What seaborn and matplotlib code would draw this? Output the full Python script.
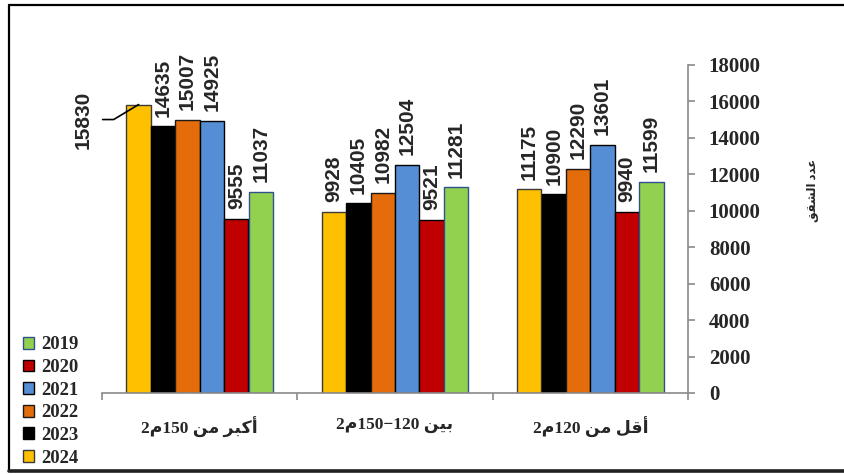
import re
import numpy as np
import pandas as pd
import matplotlib
matplotlib.use("Agg")
import matplotlib.pyplot as plt
from matplotlib.lines import Line2D
from matplotlib.patches import Patch
import seaborn as sns

# ---- data -------------------------------------------------------------
categories = ["أكبر من 150م2", "بين 120−150م2", "أقل من 120م2"]
years = ["2024", "2023", "2022", "2021", "2020", "2019"]
v2024 = [15830, 9928, 11175]
v2023 = [14635, 10405, 10900]
v2022 = [15007, 10982, 12290]
v2021 = [14925, 12504, 13601]
v2020 = [9555, 9521, 9940]
v2019 = [11037, 11281, 11599]
y_ticks = [0, 2000, 4000, 6000, 8000, 10000, 12000, 14000, 16000, 18000]
y_title = "عدد الشقق"

series = {"2024": v2024, "2023": v2023, "2022": v2022,
          "2021": v2021, "2020": v2020, "2019": v2019}
colors = {"2024": "#FFC000", "2023": "#000000", "2022": "#E46C0A",
          "2021": "#558ED5", "2020": "#C00000", "2019": "#92D050"}
edges = {"2024": "#3A3A3A", "2023": "#000000", "2022": "#1A1A1A",
         "2021": "#000000", "2020": "#000000", "2019": "#2F528F"}

# ---- minimal Arabic shaping / visual ordering -------------------------
AR_FORMS = {
    "\u0627": ("\uFE8D", "\uFE8E", None, None),
    "\u0623": ("\uFE83", "\uFE84", None, None),
    "\u0628": ("\uFE8F", "\uFE90", "\uFE91", "\uFE92"),
    "\u062F": ("\uFEA9", "\uFEAA", None, None),
    "\u0631": ("\uFEAD", "\uFEAE", None, None),
    "\u0634": ("\uFEB5", "\uFEB6", "\uFEB7", "\uFEB8"),
    "\u0639": ("\uFEC9", "\uFECA", "\uFECB", "\uFECC"),
    "\u0642": ("\uFED5", "\uFED6", "\uFED7", "\uFED8"),
    "\u0643": ("\uFED9", "\uFEDA", "\uFEDB", "\uFEDC"),
    "\u0644": ("\uFEDD", "\uFEDE", "\uFEDF", "\uFEE0"),
    "\u0645": ("\uFEE1", "\uFEE2", "\uFEE3", "\uFEE4"),
    "\u0646": ("\uFEE5", "\uFEE6", "\uFEE7", "\uFEE8"),
    "\u064A": ("\uFEF1", "\uFEF2", "\uFEF3", "\uFEF4"),
}


def shape(s):
    out = []
    for i, c in enumerate(s):
        f = AR_FORMS.get(c)
        if f is None:
            out.append(c)
            continue
        prev = s[i - 1] if i > 0 else ""
        nxt = s[i + 1] if i + 1 < len(s) else ""
        jp = prev in AR_FORMS and AR_FORMS[prev][2] is not None
        jn = f[2] is not None and nxt in AR_FORMS
        if jp and jn:
            out.append(f[3])
        elif jp:
            out.append(f[1])
        elif jn:
            out.append(f[2])
        else:
            out.append(f[0])
    return "".join(out)


def visual(s):
    tokens = re.findall(r"\d+|.", shape(s))
    return "".join(reversed(tokens))


# ---- style ------------------------------------------------------------
sns.set_style("white")
plt.rcParams["font.family"] = ["Liberation Serif", "DejaVu Sans"]
plt.rcParams["font.weight"] = "bold"

df = pd.DataFrame(
    [(cat, yr, series[yr][i]) for yr in years for i, cat in enumerate(categories)],
    columns=["category", "year", "count"],
)

fig = plt.figure(figsize=(8.44, 4.75), dpi=100)
ax = fig.add_axes([102 / 844, 82 / 475, 586 / 844, 328 / 475])

sns.barplot(data=df, x="category", y="count", hue="year", order=categories,
            hue_order=years, palette=colors, width=0.75, gap=0, dodge=True,
            saturation=1, legend=False, ax=ax, errorbar=None)

for cont, yr in zip(ax.containers, years):
    for rect in cont:
        rect.set_edgecolor(edges[yr])
        rect.set_linewidth(1.0)
    labels = [f"{v:.0f}" for v in series[yr]]
    if yr == "2024":
        labels[0] = ""
    ax.bar_label(cont, labels=labels, rotation=90, padding=7,
                 fontsize=15, fontweight="bold", family="Liberation Sans")

# callout for the tallest bar
rect = ax.containers[0][0]
bc = rect.get_x() + rect.get_width() / 2
top = rect.get_height()
ax.annotate(f"{series['2024'][0]:.0f}", xy=(bc, top), xytext=(-55, -15),
            textcoords="offset pixels", rotation=90, ha="center", va="center",
            fontsize=15, fontweight="bold", family="Liberation Sans")
ax.annotate("", xy=(bc, top), xytext=(-36, -15), textcoords="offset pixels",
            arrowprops=dict(arrowstyle="-", color="black", lw=1.2,
                            connectionstyle="angle,angleA=0,angleB=31,rad=0",
                            shrinkA=0, shrinkB=0))

# axes
axis_grey = "#8A8A8A"
ax.set_xlim(-0.5, 2.5)
ax.set_ylim(0, 18000)
ax.yaxis.tick_right()
ax.set_yticks(y_ticks)
ax.set_yticklabels([str(t) for t in y_ticks])
ax.tick_params(axis="y", which="major", direction="out", length=5, width=1.2,
               color=axis_grey, pad=10, labelsize=15, right=True, left=False)
for lab in ax.get_yticklabels():
    lab.set_fontweight("bold")
    lab.set_ha("left")

ax.set_xticks([0, 1, 2])
ax.set_xticklabels([visual(c) for c in categories], fontsize=12.5,
                   fontweight="bold")
ax.set_xticks([-0.5, 0.5, 1.5, 2.5], minor=True)
ax.tick_params(axis="x", which="major", length=0, pad=17)
ax.tick_params(axis="x", which="minor", direction="out", length=5, width=1.2,
               color=axis_grey, bottom=True)
ax.set_xlabel("")
ax.set_ylabel("")
for side in ("top", "left"):
    ax.spines[side].set_visible(False)
for side in ("right", "bottom"):
    ax.spines[side].set_visible(True)
    ax.spines[side].set_color(axis_grey)
    ax.spines[side].set_linewidth(1.2)
ax.grid(False)

fig.text(813 / 844, 1 - 190 / 475, visual(y_title), rotation=90,
         ha="center", va="center", fontsize=8.5, fontweight="bold")

# legend
legend_years = list(reversed(years))
handles = [Patch(facecolor=colors[y], edgecolor=edges[y], linewidth=1.0)
           for y in legend_years]
fig.legend(handles, legend_years, loc="center left",
           bbox_to_anchor=(23 / 844, 1 - 401.5 / 475), frameon=False,
           prop={"family": "Liberation Serif", "weight": "bold", "size": 13.5},
           handlelength=0.6, handleheight=0.6, handletextpad=0.4,
           labelspacing=0.3, borderpad=0, borderaxespad=0)

# outer frame
fig.add_artist(Line2D([9 / 844, 9 / 844], [1 - 5 / 475, 1 - 471 / 475],
                      color="black", lw=1.6, transform=fig.transFigure))
fig.add_artist(Line2D([9 / 844, 1.0], [1 - 5 / 475, 1 - 5 / 475],
                      color="black", lw=1.6, transform=fig.transFigure))
fig.add_artist(Line2D([9 / 844, 1.0], [1 - 471 / 475, 1 - 471 / 475],
                      color="#202020", lw=2.6, transform=fig.transFigure))

fig.savefig("out.png", dpi=100)
